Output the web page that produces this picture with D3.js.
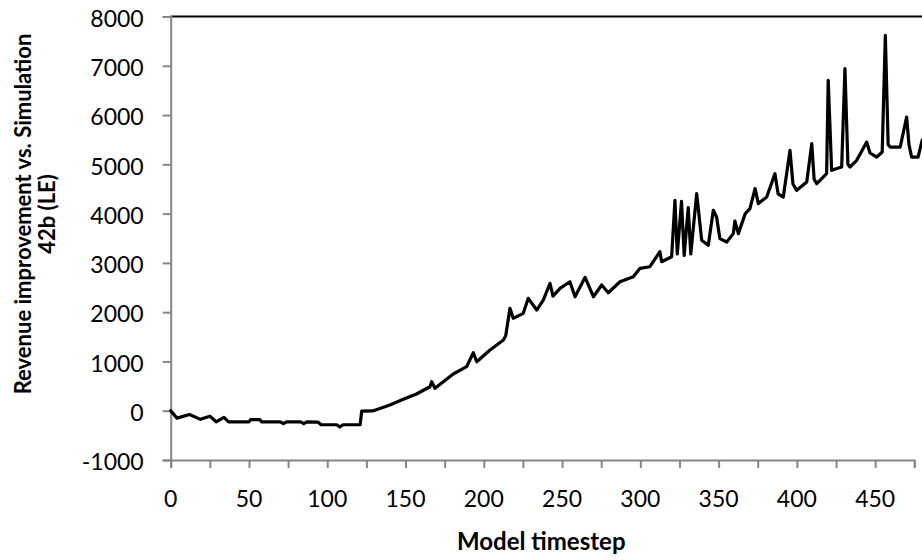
<!DOCTYPE html>
<html>
<head>
<meta charset="utf-8">
<script src="https://cdn.jsdelivr.net/npm/d3@7"></script>
<style>
  html, body { margin: 0; padding: 0; background: #fff; }
  svg { display: block; }
  text { font-family: Lato, "Open Sans", sans-serif; fill: #000; }
</style>
</head>
<body>
<svg id="chart" width="922" height="560"></svg>
<script>
// Model timesteps at which the revenue curve changes shape
const timesteps = [
  0, 4, 12, 19, 25, 29, 34, 37, 50, 51, 57, 58, 70, 72, 74, 83, 85, 87, 94, 96,
  106, 108, 110, 121, 122, 129, 140, 148.6, 157, 165.6, 166.7, 168.8, 180.5, 189, 193.3, 195.5,
  204, 212.5, 214, 216.7, 218.8, 225.2, 228.4, 233.8, 238, 242.3, 244.2, 248.7, 255, 258.3,
  264.7, 270, 275.3, 279.5, 287, 295.5, 299.8, 306.1, 312.5, 313.6, 320,
  322.1, 323.6, 326.3, 328, 330.6, 332.2, 336, 339.2, 343.4, 346.6, 348.7, 350.8, 355.2, 359.4,
  360.4, 362.6, 367, 370, 373.3, 375.4, 380.7, 386, 388, 391.3, 395.6, 397.5, 399.9, 406.3,
  409.5, 411, 412.7, 419, 420, 422.2, 428.6, 430.7, 432.6, 433.9, 438.2, 444.6, 446.7, 451,
  454.5, 456.5, 458.3, 459.6, 466, 470.1, 471.6, 473.3, 477.4, 480, 483
];
// Revenue improvement vs. Simulation 42b (LE) at those timesteps
const revenue = [
  0, -150, -75, -175, -110, -225, -135, -225, -225, -180, -180, -225, -225, -260, -225, -225, -260, -225, -230, -285,
  -285, -330, -285, -285, -10, -5, 115, 231, 339, 487, 588, 455, 745, 893, 1177, 994,
  1232, 1435, 1520, 2078, 1875, 1976, 2281, 2043, 2246, 2585, 2327, 2484, 2618, 2313,
  2707, 2313, 2551, 2394, 2618, 2719, 2890, 2922, 3227, 3024, 3125,
  4270, 3180, 4250, 3150, 4120, 3180, 4405, 3458, 3357, 4067, 3930, 3493, 3424, 3594,
  3850, 3594, 4000, 4100, 4507, 4203, 4337, 4811, 4400, 4337, 5284, 4600, 4473, 4641,
  5420, 4700, 4608, 4811, 6704, 4878, 4946, 6941, 5000, 4946, 5081, 5452, 5230, 5148,
  5250, 7617, 5400, 5351, 5351, 5960, 5400, 5148, 5148, 5487, 5600
];

const yTickValues = [-1000, 0, 1000, 2000, 3000, 4000, 5000, 6000, 7000, 8000];
const xTickValues = d3.range(0, 500, 25);
const xTickLabels = [0, 50, 100, 150, 200, 250, 300, 350, 400, 450];

const xTitle = "Model timestep";
const yTitleLines = ["Revenue improvement vs. Simulation", "42b (LE)"];

const svg = d3.select("#chart");
const W = 922, H = 560;
const axisColor = "#868686";

const x = d3.scaleLinear().domain([0, 475]).range([170.7, 914.3]);
const y = d3.scaleLinear().domain([-1000, 8000]).range([460, 16.5]);

// Top border of the plot area
svg.append("line")
  .attr("x1", x(0)).attr("x2", W)
  .attr("y1", y(8000)).attr("y2", y(8000))
  .attr("stroke", "#000").attr("stroke-width", 2);

// Y axis (plain hyphen for negatives)
const yAxis = svg.append("g")
  .attr("transform", `translate(${x(0)},0)`)
  .call(d3.axisLeft(y).tickValues(yTickValues).tickSize(8).tickPadding(19).tickFormat(d => String(d)));
yAxis.select(".domain").attr("stroke", axisColor).attr("stroke-width", 2);
yAxis.selectAll(".tick line").attr("stroke", axisColor).attr("stroke-width", 2);
yAxis.selectAll(".tick text")
  .attr("font-size", 23).attr("font-family", "Lato, sans-serif").attr("fill", "#000")
  .attr("dy", "0.42em");

// X axis: a tick every 25 steps, a label every 50
const xAxis = svg.append("g")
  .attr("transform", `translate(0,${y(-1000)})`)
  .call(d3.axisBottom(x).tickValues(xTickValues).tickSize(8).tickFormat(""));
xAxis.select(".domain").attr("stroke", axisColor).attr("stroke-width", 2);
xAxis.selectAll(".tick line").attr("stroke", axisColor).attr("stroke-width", 2);

svg.append("g").selectAll("text")
  .data(xTickLabels)
  .join("text")
  .attr("x", d => x(d))
  .attr("y", y(-1000) + 47)
  .attr("text-anchor", "middle")
  .attr("font-size", 23)
  .text(d => d);

// Axis titles
svg.append("text")
  .attr("x", 457).attr("y", 550)
  .attr("font-size", 24).attr("font-weight", 700)
  .text(xTitle);

const yTitle = svg.append("text")
  .attr("transform", "translate(0,214) rotate(-90)")
  .attr("text-anchor", "middle")
  .attr("font-size", 22).attr("font-weight", 700);
yTitle.selectAll("tspan")
  .data(yTitleLines)
  .join("tspan")
  .attr("x", 0)
  .attr("y", (d, i) => 31 + i * 24)
  .text(d => d);

// Revenue series
const points = timesteps.map((t, i) => ({ t, v: revenue[i] }));
const line = d3.line().x(d => x(d.t)).y(d => y(d.v));
svg.append("path")
  .datum(points)
  .attr("d", line)
  .attr("fill", "none")
  .attr("stroke", "#000")
  .attr("stroke-width", 3.2)
  .attr("stroke-linejoin", "round")
  .attr("stroke-linecap", "round");
</script>
</body>
</html>
